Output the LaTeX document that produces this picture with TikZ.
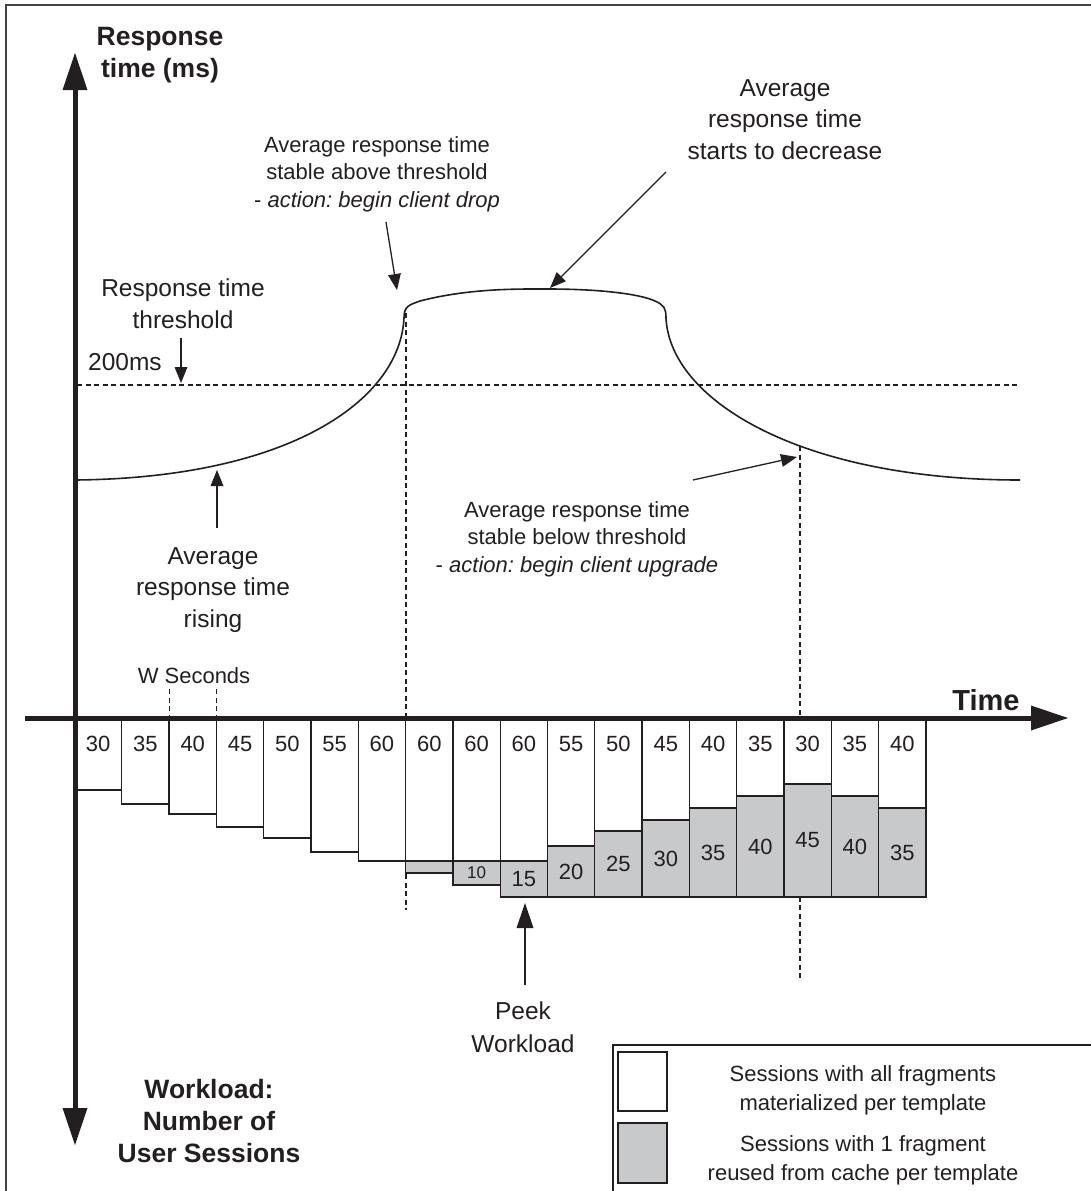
\documentclass[tikz,border=0pt]{standalone}
\usepackage{fontspec}
\setmainfont{Liberation Sans}
\usetikzlibrary{arrows.meta}
\definecolor{ink}{RGB}{35,31,32}
\definecolor{cache}{RGB}{200,201,203}
\frenchspacing

\tikzset{
  axis/.style={line width=5pt, draw=ink},
  bigtip/.tip={Triangle[length=37pt,width=25pt,line width=0pt]},
  smalltip/.tip={Triangle[length=16pt,width=13pt,line width=0pt]},
  peektip/.tip={Triangle[length=25pt,width=17pt,line width=0pt]},
  pointer/.style={line width=1.3pt, draw=ink, -smalltip},
  guide/.style={line width=1.2pt, draw=ink, dash pattern=on 5pt off 3.5pt},
  barline/.style={line width=1.3pt, draw=ink},
  curve/.style={line width=1.6pt, draw=ink},
  % multi-line labels are placed by the baseline of their last line
  lbl/.style={text=ink, align=center, inner sep=0pt, anchor=base},
  fsmall/.style={font=\fontsize{22pt}{27.5pt}\selectfont},
  fmid/.style={font=\fontsize{24.5pt}{31.5pt}\selectfont},
  fbold/.style={font=\fontsize{26.5pt}{32pt}\selectfont\bfseries},
}

\begin{document}
\begin{tikzpicture}[x=1pt,y=-1pt]
\useasboundingbox (0,0) rectangle (1091,1191);

% outer frame (top and left edges)
\draw[line width=1.5pt, draw=ink!85] (6,1191) -- (6,5) -- (1091,5);

% average response time curve
\draw[curve] (75,480) .. controls (290,478) and (400,400) .. (404,318)
  .. controls (404,306) and (409,305) .. (420,301)
  .. controls (470,288) and (520,289) .. (548,289)
  .. controls (600,289) and (640,294) .. (655,301)
  .. controls (664,305) and (666,308) .. (666,318)
  .. controls (670,400) and (800,480) .. (1020,480);

% threshold line and time markers
\coordinate (thrL) at (77,385);
\coordinate (thrR) at (1018,385);
\draw[guide] (thrL) -- (thrR);
\coordinate (dropTop) at (406,313);
\coordinate (dropBot) at (406,910);
\draw[guide] (dropTop) -- (dropBot);
\coordinate (upTop) at (800,446);
\coordinate (upBot) at (800,980);
\draw[guide] (upTop) -- (upBot);
\coordinate (wA1) at (169.5,689);
\coordinate (wA2) at (169.5,718);
\coordinate (wB1) at (216.8,689);
\coordinate (wB2) at (216.8,718);
\draw[guide] (wA1) -- (wA2);
\draw[guide] (wB1) -- (wB2);

% workload bars: index / total / white bottom / grey bottom / cached count
\foreach \i/\t/\wb/\gb/\gl in {
  0/30/790/790/{}, 1/35/804/804/{}, 2/40/814/814/{}, 3/45/827/827/{},
  4/50/838/838/{}, 5/55/852/852/{}, 6/60/861/861/{}, 7/60/861/873/{},
  8/60/861/885/{\fontsize{17pt}{20pt}\selectfont 10}, 9/60/861/897/15,
  10/55/846/897/20, 11/50/831/897/25, 12/45/820/897/30, 13/40/808/897/35,
  14/35/796/897/40, 15/30/784/897/45, 16/35/796/897/40, 17/40/808/897/35}{
  \pgfmathsetmacro\xl{74.5+47.3*\i}
  \pgfmathsetmacro\xr{\xl+47.3}
  \pgfmathsetmacro\xc{\xl+23.65}
  \pgfmathsetmacro\yc{(\wb+\gb)/2}
  \draw[barline, fill=white] (\xl,718) rectangle (\xr,\wb);
  \draw[barline, fill=cache] (\xl,\wb) rectangle (\xr,\gb);
  \node[lbl, fsmall] (w\i) at (\xc,751) {\t};
  \node[text=ink, inner sep=0pt, fsmall] (g\i) at (\xc,\yc) {\gl};
}

% axes
\coordinate (yTop) at (75,53);
\coordinate (yBot) at (75,1145);
\coordinate (xLeft) at (25,718);
\coordinate (xRight) at (1068,718);
\draw[axis, bigtip-bigtip] (yBot) -- (yTop);
\draw[axis, -bigtip] (xLeft) -- (xRight);

% labels
\node[lbl, fbold] (ylabel) at (160,77) {Response\\time (ms)};
\node[lbl, fbold] (wlabel) at (209,1162) {Workload:\\Number of\\User Sessions};
\node[lbl, font=\fontsize{29pt}{34pt}\selectfont\bfseries] (tlabel) at (986,710) {Time};
\node[lbl, fmid] (thr) at (183,328) {Response time\\threshold};
\node[lbl, fmid, anchor=base west] (ms) at (88,370) {200ms};
\node[lbl, fsmall] (above) at (377,207) {Average response time\\stable above threshold\\- \textit{action: begin client drop}};
\node[lbl, fmid] (decr) at (785,159) {Average\\response time\\starts to decrease};
\node[lbl, fmid] (rise) at (213,627) {Average\\response time\\rising};
\node[lbl, fsmall] (below) at (577,572) {Average response time\\stable below threshold\\- \textit{action: begin client upgrade}};
\node[lbl, fsmall] (wsec) at (194,683) {W Seconds};
\node[lbl, font=\fontsize{24.5pt}{32.5pt}\selectfont] (peek) at (523,1052) {Peek\\Workload};

% pointers
\coordinate (thrFrom) at (181,338);
\coordinate (thrTo) at (181,383);
\draw[pointer] (thrFrom) -- (thrTo);
\coordinate (aboveFrom) at (386,222);
\coordinate (aboveTo) at (397,290);
\draw[pointer] (aboveFrom) -- (aboveTo);
\coordinate (decrFrom) at (666,172);
\coordinate (decrTo) at (550,288);
\draw[pointer] (decrFrom) -- (decrTo);
\coordinate (riseFrom) at (217,528);
\coordinate (riseTo) at (217,470);
\draw[pointer] (riseFrom) -- (riseTo);
\coordinate (belowFrom) at (693,480);
\coordinate (belowTo) at (797,457);
\draw[pointer] (belowFrom) -- (belowTo);
\coordinate (peekFrom) at (525,985);
\coordinate (peekTo) at (525,903);
\draw[line width=1.3pt, draw=ink, -peektip] (peekFrom) -- (peekTo);

% legend
\draw[line width=1.3pt, draw=ink] (613,1191) -- (613,1045) -- (1091,1045);
\draw[barline, fill=white] (618,1052) rectangle (667,1111);
\draw[barline, fill=cache] (618,1123) rectangle (667,1183);
\node[lbl, font=\fontsize{22pt}{28.5pt}\selectfont] (legA) at (863,1110) {Sessions with all fragments\\materialized per template};
\node[lbl, font=\fontsize{22pt}{28.5pt}\selectfont] (legB) at (863,1180) {Sessions with 1 fragment\\reused from cache per template};
\end{tikzpicture}
\end{document}
